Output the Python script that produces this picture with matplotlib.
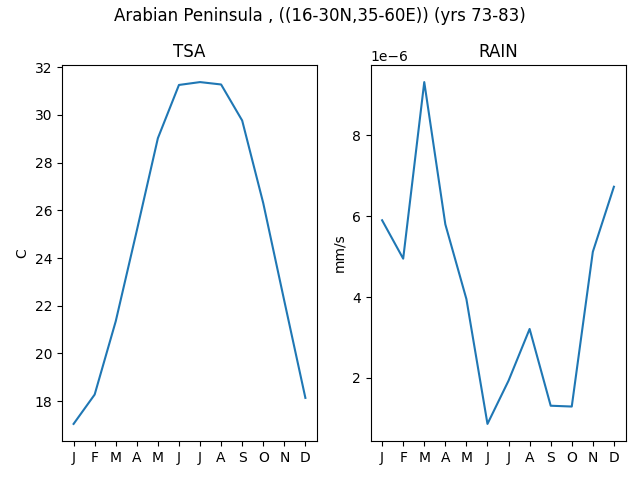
import matplotlib
matplotlib.use("Agg")
import matplotlib.pyplot as plt

months = ["J", "F", "M", "A", "M", "J", "J", "A", "S", "O", "N", "D"]

# monthly climatology
tsa = [17.05, 18.28, 21.35, 25.15, 29.02, 31.25, 31.37, 31.27, 29.76, 26.3, 22.2, 18.14]
rain = [5.90e-6, 4.95e-6, 9.32e-6, 5.80e-6, 3.95e-6, 0.86e-6, 1.93e-6, 3.21e-6,
        1.31e-6, 1.29e-6, 5.12e-6, 6.73e-6]

fig, (ax1, ax2) = plt.subplots(1, 2, figsize=(6.4, 4.8), dpi=100)
fig.suptitle("Arabian Peninsula , ((16-30N,35-60E)) (yrs 73-83)", y=0.985)

x = range(len(months))

ax1.plot(x, tsa)
ax1.set_title("TSA")
ax1.set_ylabel("C")
ax1.set_xticks(list(x))
ax1.set_xticklabels(months)

ax2.plot(x, rain)
ax2.set_title("RAIN")
ax2.set_ylabel("mm/s")
ax2.set_xticks(list(x))
ax2.set_xticklabels(months)

fig.subplots_adjust(left=62/640, right=625.5/640, top=1-65/480, bottom=1-441/480,
                    wspace=0.21)
plt.savefig("out.png")
